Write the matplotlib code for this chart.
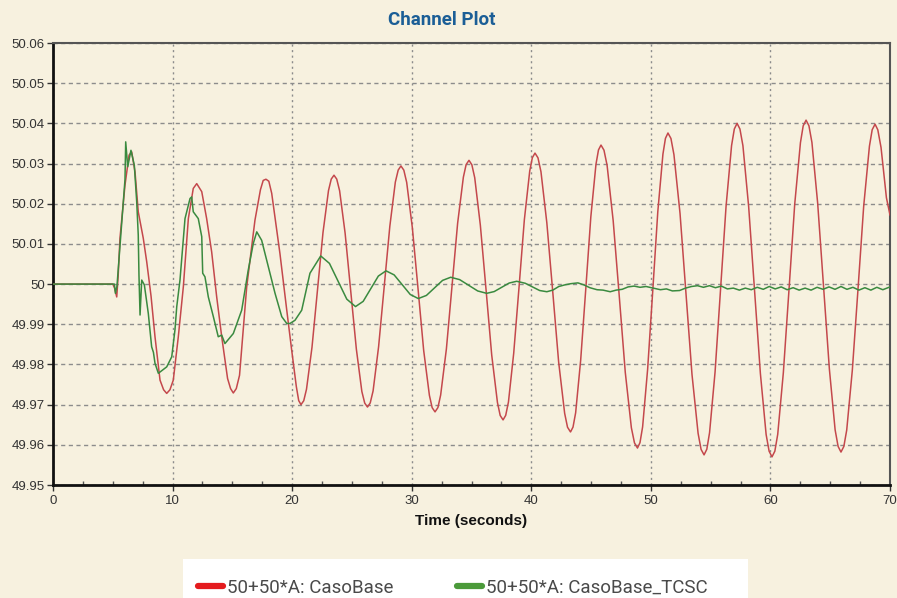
import matplotlib
matplotlib.use("Agg")
import matplotlib.pyplot as plt
from matplotlib.lines import Line2D
from matplotlib.patches import Rectangle

# time (s) / frequency (Hz)
red_t = [0.0, 5.0, 5.15, 5.33, 5.45, 5.60, 6.02, 6.36, 6.58, 6.86,
         7.13, 7.55, 7.84, 8.20, 8.53, 8.95, 9.25, 9.51, 9.78, 10.06,
         10.48, 10.90, 11.32, 11.73, 12.02, 12.44, 12.85, 13.27, 13.69, 14.11,
         14.60, 14.85, 15.08, 15.33, 15.60, 16.20, 16.89, 17.35, 17.58, 17.81,
         18.05, 18.29, 18.98, 19.55, 19.96, 20.35, 20.55, 20.74, 20.97, 21.20,
         21.66, 22.12, 22.58, 23.04, 23.27, 23.50, 23.73, 23.97, 24.43, 24.90,
         25.37, 25.83, 26.07, 26.30, 26.53, 26.77, 27.23, 27.70, 28.17, 28.63,
         28.87, 29.10, 29.34, 29.58, 30.05, 30.53, 31.00, 31.48, 31.71, 31.95,
         32.19, 32.42, 32.90, 33.37, 33.84, 34.32, 34.55, 34.79, 35.03, 35.27,
         35.74, 36.22, 36.69, 37.17, 37.40, 37.64, 37.86, 38.09, 38.53, 38.98,
         39.42, 39.87, 40.09, 40.31, 40.56, 40.81, 41.30, 41.80, 42.29, 42.79,
         43.03, 43.28, 43.49, 43.71, 44.13, 44.56, 44.98, 45.41, 45.62, 45.83,
         46.08, 46.34, 46.85, 47.36, 47.86, 48.37, 48.63, 48.88, 49.09, 49.31,
         49.73, 50.16, 50.58, 51.01, 51.22, 51.43, 51.68, 51.93, 52.44, 52.94,
         53.44, 53.95, 54.20, 54.45, 54.68, 54.91, 55.37, 55.83, 56.29, 56.75,
         56.98, 57.21, 57.45, 57.70, 58.18, 58.67, 59.16, 59.64, 59.89, 60.13,
         60.37, 60.61, 61.08, 61.56, 62.03, 62.51, 62.74, 62.98, 63.22, 63.47,
         63.95, 64.44, 64.93, 65.41, 65.66, 65.90, 66.14, 66.38, 66.85, 67.33,
         67.80, 68.28, 68.51, 68.75, 68.98, 69.25, 69.70, 70.00]
red_v = [50.0, 50.0, 49.9990, 49.9968, 50.0020, 50.0114, 50.0246, 50.0321, 50.0329, 50.0279,
         50.0180, 50.0114, 50.0055, 49.9970, 49.9869, 49.9761, 49.9737, 49.9728, 49.9737, 49.9761,
         49.9869, 49.9993, 50.0163, 50.0238, 50.0250, 50.0230, 50.0163, 50.0080, 49.9968, 49.9869,
         49.9765, 49.9740, 49.9729, 49.9740, 49.9773, 49.9993, 50.0159, 50.0235, 50.0258, 50.0261,
         50.0256, 50.0226, 50.0076, 49.9935, 49.9836, 49.9745, 49.9710, 49.9700, 49.97097, 49.97383,
         49.98427, 49.99855, 50.01283, 50.02327, 50.02613, 50.0271, 50.02612, 50.02323, 50.01268, 49.99825,
         49.98382, 49.97327, 49.97038, 49.9694, 49.97042, 49.97342, 49.9844, 49.9994, 50.0144, 50.02538,
         50.02838, 50.0294, 50.02836, 50.0253, 50.0141, 49.9988, 49.9835, 49.9723, 49.96924, 49.9682,
         49.96926, 49.97239, 49.98385, 49.9995, 50.01515, 50.02661, 50.02974, 50.0308, 50.0297, 50.02647,
         50.01465, 49.9985, 49.98235, 49.97053, 49.9673, 49.9662, 49.96733, 49.97065, 49.9828, 49.9994,
         50.0160, 50.02815, 50.03147, 50.0326, 50.03142, 50.02795, 50.01525, 49.9979, 49.98055, 49.96785,
         49.96438, 49.9632, 49.96441, 49.96798, 49.98105, 49.9989, 50.01675, 50.02982, 50.03339, 50.0346,
         50.03332, 50.02955, 50.01575, 49.9969, 49.97805, 49.96425, 49.96048, 49.9592, 49.96053, 49.96445,
         49.9788, 49.9984, 50.0180, 50.03235, 50.03627, 50.0376, 50.03624, 50.03223, 50.01758, 49.99755,
         49.97752, 49.96287, 49.95886, 49.9575, 49.9589, 49.96303, 49.97812, 49.99875, 50.01938, 50.03447,
         50.0386, 50.0400, 50.03859, 50.03444, 50.01925, 49.9985, 49.97775, 49.96256, 49.95841, 49.9570,
         49.95842, 49.96261, 49.97795, 49.9989, 50.01985, 50.03519, 50.03938, 50.0408, 50.0394, 50.03527,
         50.02015, 49.9995, 49.97885, 49.96373, 49.9596, 49.9582, 49.95959, 49.96367, 49.9786, 49.9990,
         50.0194, 50.03433, 50.03841, 50.0398, 50.0384, 50.0340, 50.0215, 50.0172]

green_t = [0.0, 5.13, 5.22, 5.35, 5.45, 5.60, 5.85, 6.02, 6.08, 6.25, 6.52, 6.80, 7.00, 7.13, 7.19,
           7.28, 7.42, 7.64, 7.97, 8.25, 8.40, 8.53, 8.81, 9.51, 9.93, 10.20, 10.35, 10.62, 11.04,
           11.46, 11.60, 11.73, 12.15, 12.44, 12.52, 12.71, 12.99, 13.41, 13.82, 14.11, 14.38,
           15.08, 15.78, 16.33, 16.75, 17.04, 17.45, 18.01, 18.57, 19.13, 19.55, 19.82, 20.24,
           20.80, 21.49, 22.39, 23.12, 23.85, 24.57, 25.30, 25.94, 26.58, 27.21, 27.85, 28.53,
           29.20, 29.88, 30.55, 31.23, 31.91, 32.58, 33.26, 34.01, 34.77, 35.52, 36.27, 36.90,
           37.53, 38.15, 38.78, 39.5, 40.1, 40.7, 41.3, 41.8, 42.3, 42.8, 43.3, 43.9, 44.4, 44.9,
           45.5, 46.0, 46.6, 47.1, 47.6, 48.1, 48.6, 49.1, 49.6, 50.2, 50.8, 51.3, 51.8, 52.4,
           52.9, 53.4, 53.9, 54.4, 54.9, 55.4, 55.9, 56.4, 56.9, 57.4, 57.9, 58.4, 58.9, 59.4,
           59.9, 60.4, 60.9, 61.4, 61.9, 62.4, 62.9, 63.4, 63.9, 64.4, 64.9, 65.4, 65.9, 66.4,
           66.9, 67.4, 67.9, 68.4, 68.9, 69.4, 70.0]
green_v = [50.0, 50.0, 49.9977, 49.9995, 50.0035, 50.0097, 50.0195, 50.0260, 50.0354, 50.0292,
           50.0333, 50.0296, 50.0205, 50.0122, 50.0022, 49.9923, 50.0010, 49.9998, 49.9927,
           49.9844, 49.9830, 49.9803, 49.9778, 49.9794, 49.9819, 49.9886, 49.9944, 50.0010,
           50.0163, 50.0213, 50.0217, 50.0180, 50.0163, 50.0118, 50.0027, 50.0018, 49.9968,
           49.9919, 49.9869, 49.9873, 49.9852, 49.9877, 49.9935, 50.0035, 50.0101, 50.0130,
           50.0109, 50.0043, 49.9977, 49.9919, 49.9902, 49.9902, 49.9910, 49.9935, 50.0027,
           50.0070, 50.00515, 50.0007, 49.99625, 49.9944, 49.9957, 49.99885, 50.0020, 50.0033,
           50.00229, 49.99985, 49.99741, 49.9964, 49.99718, 49.99905, 50.00092, 50.0017,
           50.00111, 49.9997, 49.99829, 49.9977, 49.99814, 49.9992, 50.00026, 50.0007,
           50.0002, 49.9993, 49.9984, 49.9981, 49.9985, 49.9994, 49.9998, 50.0001, 50.0003,
           49.9998, 49.9991, 49.9986, 49.9985, 49.9981, 49.9985, 49.9987, 49.9993, 49.9995,
           49.9992, 49.9994, 49.9990, 49.9986, 49.9988, 49.9983, 49.9984, 49.9990, 49.9994,
           49.9996, 49.9992, 49.9996, 49.9991, 49.9995, 49.9988, 49.9990, 49.9985, 49.9990,
           49.9986, 49.9992, 49.9987, 49.9994, 49.9988, 49.9993, 49.9986, 49.9991, 49.9985,
           49.9990, 49.9985, 49.9992, 49.9987, 49.9993, 49.9987, 49.9994, 49.9987, 49.9992,
           49.9985, 49.9991, 49.9985, 49.9992, 49.9986, 49.9993]

series_names = ["50+50*A: CasoBase", "50+50*A: CasoBase_TCSC"]
x_ticks = [0, 10, 20, 30, 40, 50, 60, 70]
y_ticks = [49.95, 49.96, 49.97, 49.98, 49.99, 50.0, 50.01, 50.02, 50.03, 50.04, 50.05, 50.06]
y_labels = ["49.95", "49.96", "49.97", "49.98", "49.99", "50", "50.01", "50.02", "50.03",
            "50.04", "50.05", "50.06"]

bg = "#f7f1df"
fig = plt.figure(figsize=(8.97, 5.98), dpi=100, facecolor=bg)
ax = fig.add_axes([53 / 897, 113 / 598, 837 / 897, 442 / 598], facecolor=bg)

ax.plot(red_t, red_v, color="#c4484c", lw=1.1, zorder=3)
ax.plot(green_t, green_v, color="#3a8a3f", lw=1.1, zorder=4)

ax.set_xlim(0, 70)
ax.set_ylim(49.95, 50.06)
ax.set_xticks(x_ticks)
ax.set_xticks([2.5, 5, 7.5, 12.5, 15, 17.5, 22.5, 25, 27.5, 32.5, 35, 37.5, 42.5, 45, 47.5,
               52.5, 55, 57.5, 62.5, 65, 67.5], minor=True)
ax.set_yticks(y_ticks)
ax.set_yticklabels(y_labels)

ax.tick_params(axis="both", labelsize=9.5, labelcolor="#333333", labelfontfamily="Liberation Sans")
ax.tick_params(axis="y", length=4, width=1, pad=2, color="#333333")
ax.tick_params(axis="x", which="major", length=4, width=1, pad=3, color="#333333")
ax.tick_params(axis="x", which="minor", length=3, width=1, direction="in", color="#555555")

ax.xaxis.grid(True, which="major", color="#8c8c8c", lw=1, linestyle=(0, (1.5, 2.5)))
ax.yaxis.grid(True, which="major", color="#8c8c8c", lw=1, linestyle=(0, (3, 2.5)))
ax.set_axisbelow(True)

for side in ["left", "bottom"]:
    ax.spines[side].set_linewidth(2)
    ax.spines[side].set_color("#111111")
for side in ["top", "right"]:
    ax.spines[side].set_linewidth(1.5)
    ax.spines[side].set_color("#555555")

ax.set_xlabel("Time (seconds)", fontsize=11, fontweight="bold", family="Liberation Sans",
              color="#111111")
ax.xaxis.set_label_coords(0.5, -36 / 442)
ax.xaxis.label.set_va("center")

fig.text(442 / 897, 1 - 20 / 598, "Channel Plot", ha="center", va="center", fontsize=13.5,
         fontweight="bold", family="Roboto", color="#1b5e96")

# legend panel at the bottom
fig.patches.append(Rectangle((183 / 897, 0), 565 / 897, 39 / 598, transform=fig.transFigure,
                             facecolor="white", edgecolor="none", zorder=0))
handles = [Line2D([], [], color="#e41b1e", lw=4.5, solid_capstyle="round"),
           Line2D([], [], color="#4b9a3a", lw=4.5, solid_capstyle="round")]
leg = fig.legend(handles, series_names, loc="center left", bbox_to_anchor=(198 / 897, 10 / 598),
                 ncol=2, frameon=False, borderpad=0, borderaxespad=0, handlelength=1.33,
                 handletextpad=0.21, columnspacing=3.4,
                 prop={"family": "Roboto", "size": 13.5})
for txt in leg.get_texts():
    txt.set_color("#4a4a4a")

fig.savefig("out.png", dpi=100, facecolor=bg)
